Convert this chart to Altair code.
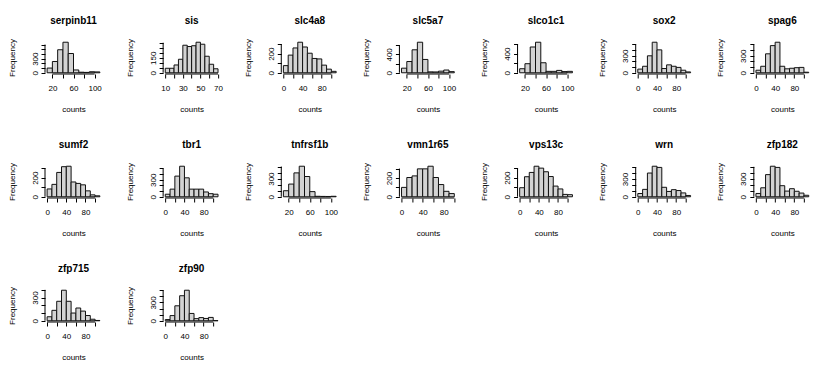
import altair as alt
import pandas as pd

# ---------------- data ----------------
GENES = ["serpinb11", "sis", "slc4a8", "slc5a7", "slco1c1", "sox2", "spag6",
         "sumf2", "tbr1", "tnfrsf1b", "vmn1r65", "vps13c", "wrn", "zfp182",
         "zfp715", "zfp90"]

# histogram break points
BREAKS_0_110 = [0, 10, 20, 30, 40, 50, 60, 70, 80, 90, 100, 110]
BREAKS_10_110 = [10, 20, 30, 40, 50, 60, 70, 80, 90, 100, 110]
BREAKS_0_100 = [0, 10, 20, 30, 40, 50, 60, 70, 80, 90, 100]
BREAKS_SIS = [10, 15, 20, 25, 30, 35, 40, 45, 50, 55, 60, 65, 70]

# bin frequencies
SERPINB11 = [100, 240, 490, 650, 410, 60, 12, 8, 22, 18]
SIS = [45, 45, 78, 135, 275, 262, 270, 305, 285, 165, 85, 40]
SLC4A8 = [75, 185, 260, 320, 270, 205, 150, 145, 80, 38, 15]
SLC5A7 = [100, 245, 500, 665, 290, 20, 18, 35, 60, 25]
SLCO1C1 = [85, 190, 540, 640, 210, 30, 30, 50, 25, 30]
SOX2 = [65, 115, 300, 540, 405, 75, 140, 115, 95, 45, 15]
SPAG6 = [45, 115, 335, 480, 540, 115, 70, 80, 90, 95, 10]
SUMF2 = [82, 130, 255, 315, 320, 155, 140, 125, 62, 20, 10]
TBR1 = [45, 135, 365, 540, 335, 135, 135, 135, 85, 55, 45]
TNFRSF1B = [100, 210, 395, 505, 335, 85, 8, 6, 5, 8]
VMN1R65 = [100, 205, 222, 297, 297, 325, 205, 130, 58, 34]
VPS13C = [95, 210, 255, 320, 300, 262, 212, 112, 82, 25, 22]
WRN = [55, 125, 400, 515, 495, 160, 90, 120, 105, 65, 22]
ZFP182 = [55, 150, 370, 510, 490, 185, 95, 135, 92, 62, 25]
ZFP715 = [52, 135, 252, 395, 252, 100, 165, 125, 68, 20, 4]
ZFP90 = [20, 85, 245, 410, 500, 120, 35, 52, 38, 55, 3]

# axis ticks and labelled ticks
XT_0_100 = [0, 20, 40, 60, 80, 100]
XL_0_80 = [0, 40, 80]
XT_20_100 = [20, 40, 60, 80, 100]
XL_20_100 = [20, 60, 100]
XT_SIS = [10, 20, 30, 40, 50, 60, 70]
XL_SIS = [10, 30, 50, 70]

YT_300 = [0, 100, 200, 300]
YT_400 = [0, 100, 200, 300, 400]
YT_500 = [0, 100, 200, 300, 400, 500]
YT_600 = [0, 100, 200, 300, 400, 500, 600]
YT_600_BY200 = [0, 200, 400, 600]
YT_SIS = [0, 50, 100, 150, 200, 250, 300]
YL_0_300 = [0, 300]
YL_0_200 = [0, 200]
YL_0_400 = [0, 400]
YL_0_150 = [0, 150]

PANELS = [
    (GENES[0], SERPINB11, BREAKS_10_110, XT_20_100, XL_20_100, YT_600, YL_0_300),
    (GENES[1], SIS, BREAKS_SIS, XT_SIS, XL_SIS, YT_SIS, YL_0_150),
    (GENES[2], SLC4A8, BREAKS_0_110, XT_0_100, XL_0_80, YT_300, YL_0_200),
    (GENES[3], SLC5A7, BREAKS_10_110, XT_20_100, XL_20_100, YT_600_BY200, YL_0_400),
    (GENES[4], SLCO1C1, BREAKS_10_110, XT_20_100, XL_20_100, YT_600_BY200, YL_0_400),
    (GENES[5], SOX2, BREAKS_0_110, XT_0_100, XL_0_80, YT_500, YL_0_300),
    (GENES[6], SPAG6, BREAKS_0_110, XT_0_100, XL_0_80, YT_500, YL_0_300),
    (GENES[7], SUMF2, BREAKS_0_110, XT_0_100, XL_0_80, YT_300, YL_0_200),
    (GENES[8], TBR1, BREAKS_0_110, XT_0_100, XL_0_80, YT_500, YL_0_300),
    (GENES[9], TNFRSF1B, BREAKS_10_110, XT_20_100, XL_20_100, YT_500, YL_0_300),
    (GENES[10], VMN1R65, BREAKS_0_100, XT_0_100, XL_0_80, YT_300, YL_0_200),
    (GENES[11], VPS13C, BREAKS_0_110, XT_0_100, XL_0_80, YT_300, YL_0_200),
    (GENES[12], WRN, BREAKS_0_110, XT_0_100, XL_0_80, YT_500, YL_0_300),
    (GENES[13], ZFP182, BREAKS_0_110, XT_0_100, XL_0_80, YT_500, YL_0_300),
    (GENES[14], ZFP715, BREAKS_0_110, XT_0_100, XL_0_80, YT_400, YL_0_300),
    (GENES[15], ZFP90, BREAKS_0_110, XT_0_100, XL_0_80, YT_500, YL_0_300),
]

FONT = "Liberation Sans"
PLOT_W = 57
PLOT_H = 33


def label_expr(labels):
    return "indexof([" + ",".join(str(v) for v in labels) + "], datum.value) >= 0 ? datum.label : ''"


def panel(name, counts, breaks, xt, xl, yt, yl):
    df = pd.DataFrame({
        "lo": breaks[:-1],
        "hi": breaks[1:],
        "count": counts,
        "base": [0] * len(counts),
    })
    span = breaks[-1] - breaks[0]
    xdom = [breaks[0] - 0.04 * span, breaks[-1] + 0.04 * span]
    m = max(counts)
    ydom = [-0.04 * m, 1.04 * m]
    xs = alt.Scale(domain=xdom, nice=False, zero=False)
    ys = alt.Scale(domain=ydom, nice=False, zero=False)

    xaxis = alt.Axis(values=xt, labelExpr=label_expr(xl), domain=False, grid=False,
                     tickSize=4, tickColor="black", tickWidth=1,
                     labelFontSize=8, labelColor="black", labelPadding=6,
                     labelOverlap=False, labelFlush=False,
                     minExtent=19, maxExtent=19,
                     titleFontSize=8, titleFontWeight="normal", titleColor="black",
                     titlePadding=12)
    yaxis = alt.Axis(values=yt, labelExpr=label_expr(yl), domain=False, grid=False,
                     tickSize=4, tickColor="black", tickWidth=1,
                     labelFontSize=8, labelColor="black", labelPadding=2,
                     labelAngle=270, labelOverlap=False, labelFlush=False,
                     minExtent=14, maxExtent=14,
                     titleFontSize=8, titleFontWeight="normal", titleColor="black",
                     titlePadding=15)

    bars = alt.Chart(df).mark_rect(fill="#D3D3D3", stroke="#111111", strokeWidth=1).encode(
        x=alt.X("lo:Q", scale=xs, axis=xaxis, title="counts"),
        x2="hi:Q",
        y=alt.Y("count:Q", scale=ys, axis=yaxis, title="Frequency"),
        y2="base:Q",
    )
    yline_df = pd.DataFrame({"x": [xdom[0]], "y": [yt[0]], "y2": [yt[-1]]})
    yline = alt.Chart(yline_df).mark_rule(color="black", strokeWidth=1).encode(
        x=alt.X("x:Q", scale=xs, axis=xaxis, title="counts"),
        y=alt.Y("y:Q", scale=ys, axis=yaxis, title="Frequency"),
        y2="y2:Q",
    )
    xline_df = pd.DataFrame({"x": [xt[0]], "x2": [xt[-1]], "y": [ydom[0]]})
    xline = alt.Chart(xline_df).mark_rule(color="black", strokeWidth=1).encode(
        x=alt.X("x:Q", scale=xs, axis=xaxis, title="counts"),
        x2="x2:Q",
        y=alt.Y("y:Q", scale=ys, axis=yaxis, title="Frequency"),
    )
    return alt.layer(bars, yline, xline).properties(
        width=PLOT_W, height=PLOT_H,
        title=alt.TitleParams(name, fontSize=10, fontWeight="bold", font=FONT,
                              color="black", anchor="middle", frame="group", offset=13),
    )


charts = [panel(*p) for p in PANELS]

chart = alt.concat(
    *charts, columns=7,
    spacing={"row": 124 - PLOT_H, "column": 118.14 - PLOT_W},
    bounds="flush",
).properties(
    padding={"left": 0, "top": 7, "right": 0, "bottom": 0},
).configure(font=FONT).configure_view(stroke=None)

chart.save("out.html", embed_options={"renderer": "svg", "actions": False})
